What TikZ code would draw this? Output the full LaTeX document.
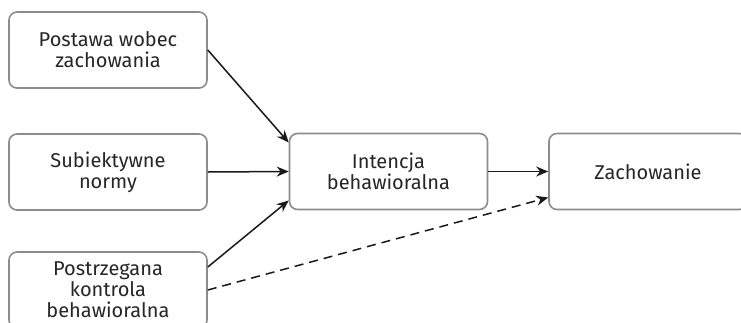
\documentclass[tikz,border=0pt]{standalone}
\usepackage{fontspec}
\setmainfont{Fira Sans}
\usetikzlibrary{positioning,calc,arrows.meta}

\begin{document}
\begin{tikzpicture}[x=1pt,y=-1pt,
    box/.style={draw=black!45, line width=1.6pt, rounded corners=8pt, fill=white,
        minimum width=198pt, minimum height=76pt, align=center, text=black!85,
        font=\fontsize{20}{21}\selectfont},
    arr/.style={-{Stealth[length=12pt,width=10pt]}, line width=1.5pt, black!90}]
    \useasboundingbox (0,0) rectangle (741,322);
    \clip (0,0) rectangle (741,322);

    % Inputs
    \node[box] (attitude) at (108,50) {Postawa wobec\\zachowania};
    \node[box] (norms) at (108,172) {Subiektywne\\normy};
    \node[box] (control) at (108,290) {Postrzegana\\kontrola\\behawioralna};

    % Intention and behaviour
    \node[box] (intention) at (388.5,171.5) {Intencja\\behawioralna};
    \node[box] (behaviour) at (648,171.5) {Zachowanie};

    % Arrows
    \draw[arr] (attitude.east) -- ($(intention.west)+(0,-29)$);
    \draw[arr] (norms.east) -- (intention.west);
    \draw[arr] ($(control.east)+(0,-23)$) -- ($(intention.west)+(0,29)$);
    \draw[arr] (intention.east) -- (behaviour.west);
    \draw[arr, dashed, dash pattern=on 9pt off 6pt] (control.east) -- ($(behaviour.west)+(0,26)$);
\end{tikzpicture}
\end{document}
